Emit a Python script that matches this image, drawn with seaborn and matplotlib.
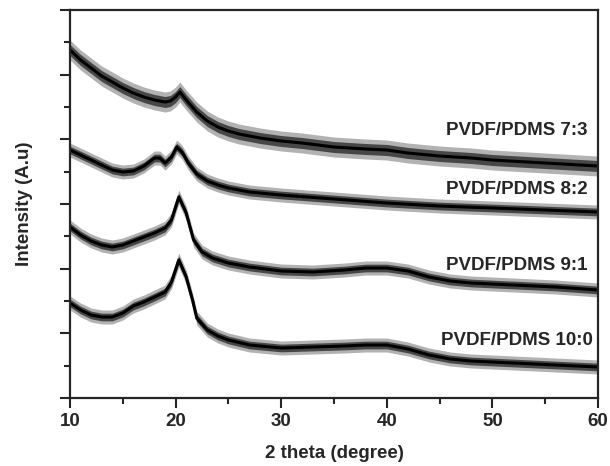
import numpy as np
import pandas as pd
import matplotlib
matplotlib.use("Agg")
import matplotlib.pyplot as plt
from matplotlib.ticker import MultipleLocator
import seaborn as sns

# 2 theta positions (degree), per sample
theta_73 = [10, 10.5, 11, 12, 13, 14, 15, 16, 17, 18, 19, 19.5, 20, 20.4, 21, 22, 23, 24, 25, 26, 28, 30, 32, 35, 38, 40, 42, 45, 48, 50, 55, 60]
inten_73 = [348, 343, 338, 330, 322, 316, 310, 305, 301, 298, 296, 297, 301, 306, 298, 286, 277, 271, 267, 264, 260, 257, 255, 251, 249, 248, 245, 242, 240, 238, 235, 232]

theta_82 = [10, 11, 12, 13, 14, 15, 16, 17, 18, 18.5, 19, 19.6, 20.1, 20.6, 21.2, 22, 23, 24, 25, 27, 30, 35, 40, 45, 50, 55, 60]
inten_82 = [248, 243, 238, 233, 228, 226, 227, 232, 240, 240, 235, 241, 251, 246, 235, 224, 217, 213, 210, 206, 203, 199, 195, 192, 190, 188, 186]

theta_91 = [10, 11, 12, 13, 14, 15, 16, 17, 18, 19, 19.6, 20.3, 21, 21.7, 22.5, 23.5, 25, 27, 30, 33, 36, 38, 40, 42, 44, 46, 48, 52, 56, 60]
inten_91 = [171, 163, 157, 153, 151, 153, 157, 161, 165, 170, 178, 201, 185, 158, 146, 140, 135, 131, 127, 126, 128, 130, 130, 127, 121, 117, 115, 113, 111, 108]

theta_100 = [10, 11, 12, 13, 14, 15, 16, 17, 18, 19, 19.6, 20.3, 21, 21.6, 22, 23, 24, 25, 27, 30, 33, 36, 38, 40, 42, 44, 46, 48, 52, 56, 60]
inten_100 = [95, 88, 83, 81, 81, 85, 92, 96, 101, 106, 116, 138, 121, 98, 80, 68, 62, 58, 53, 50, 51, 52, 53, 53, 49, 43, 39, 37, 35, 33, 31]

# rough half width of the noise band seen around each trace
noise_73 = 10
noise_82 = 7
noise_91 = 7
noise_100 = 7

labels = ["PVDF/PDMS 7:3", "PVDF/PDMS 8:2", "PVDF/PDMS 9:1", "PVDF/PDMS 10:0"]
label_y = [268, 209, 133, 58]

sns.set_style("ticks")
plt.rcParams['font.family'] = ['Liberation Sans', 'DejaVu Sans']
plt.rcParams['font.weight'] = 'bold'

fig = plt.figure(figsize=(6.1, 4.66), dpi=100)
ax = fig.add_axes([0.1148, 0.1459, 0.8655, 0.8326])

series = [(theta_73, inten_73, noise_73), (theta_82, inten_82, noise_82),
          (theta_91, inten_91, noise_91), (theta_100, inten_100, noise_100)]

for x, y, n in series:
    x = np.array(x)
    y = np.array(y)
    # outer fuzz and inner dense band
    ax.fill_between(x, y - n, y + n, color='#555555', alpha=0.45, linewidth=0)
    ax.fill_between(x, y - n * 0.55, y + n * 0.55, color='#1a1a1a', alpha=0.7, linewidth=0)
    sns.lineplot(x=x, y=y, ax=ax, color='black', linewidth=2.2)

for lab, ly in zip(labels, label_y):
    xr = 59.5 if lab.endswith("10:0") else 59.05
    ax.text(xr, ly, lab, ha='right', va='center', fontsize=13.5, fontweight='bold')

ax.set_xlim(10, 60)
ax.set_ylim(0, 388)
ax.xaxis.set_major_locator(MultipleLocator(10))
ax.xaxis.set_minor_locator(MultipleLocator(5))
ax.yaxis.set_major_locator(MultipleLocator(388 / 6))
ax.yaxis.set_minor_locator(MultipleLocator(388 / 12))
ax.set_yticklabels([])
ax.tick_params(which='major', direction='out', length=7, width=1.5, labelsize=13.5)
ax.tick_params(which='minor', direction='out', length=4, width=1.5)
for lab in ax.get_xticklabels():
    lab.set_fontweight('bold')
for s in ax.spines.values():
    s.set_linewidth(1.6)
    s.set_visible(True)

ax.set_xlabel("2 theta (degree)", fontsize=13.5, fontweight='bold', labelpad=11)
ax.set_ylabel("Intensity (A.u)", fontsize=13.5, fontweight='bold', labelpad=16)

fig.savefig("out.png", dpi=100)
